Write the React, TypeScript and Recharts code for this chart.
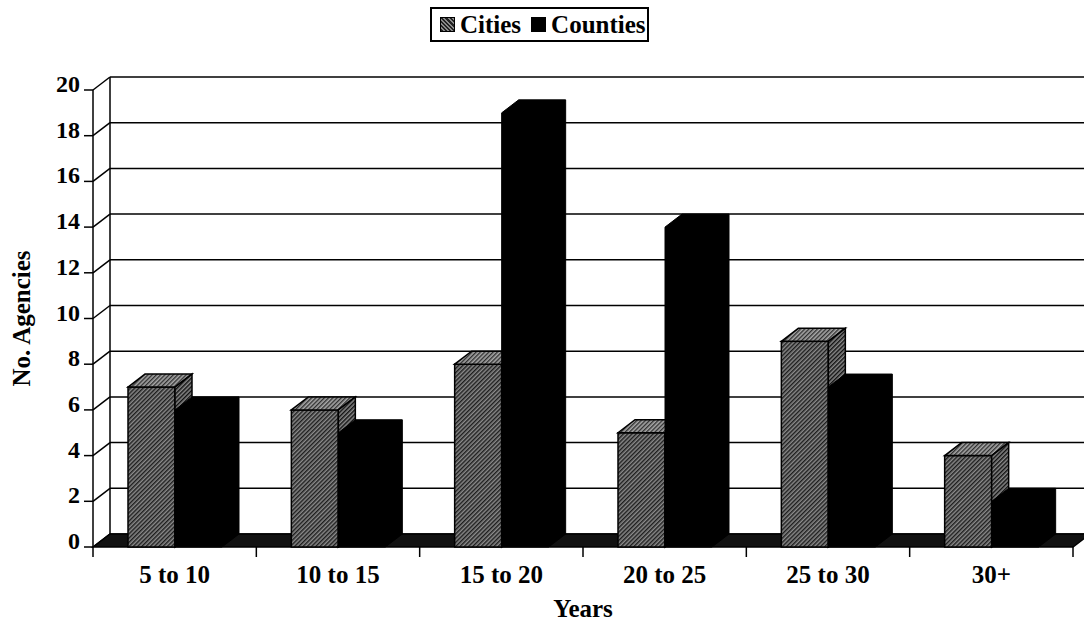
import { BarChart, Bar, XAxis, YAxis, CartesianGrid, Label } from "recharts";

const categories = ["5 to 10", "10 to 15", "15 to 20", "20 to 25", "25 to 30", "30+"];
const cities = [7, 6, 8, 5, 9, 4];
const counties = [6, 5, 19, 14, 7, 2];
const yTicks = [0, 2, 4, 6, 8, 10, 12, 14, 16, 18, 20];

const data = categories.map((name, i) => ({
  name,
  cities: cities[i],
  counties: counties[i],
}));

const W = 1084;
const H = 632;
const PLOT_LEFT = 93;
const PLOT_RIGHT = 1073;
const PLOT_TOP = 90;
const PLOT_BOTTOM = 547;
const BAND = (PLOT_RIGHT - PLOT_LEFT) / categories.length;
// 3d depth offset
const DX = 17;
const DY = -13;

const FONT = "'Liberation Serif', 'Times New Roman', serif";

const pts = (arr: number[][]) => arr.map((p) => p.join(",")).join(" ");

const Patterns = () => (
  <defs>
    <pattern id="cityFront" width="3" height="3" patternUnits="userSpaceOnUse" patternTransform="rotate(45)">
      <rect width="3" height="3" fill="#8a8a8a" />
      <line x1="0.7" y1="0" x2="0.7" y2="3" stroke="#1e1e1e" strokeWidth="1.5" />
    </pattern>
    <pattern id="cityTop" width="3" height="3" patternUnits="userSpaceOnUse" patternTransform="rotate(45)">
      <rect width="3" height="3" fill="#a8a8a8" />
      <line x1="0.7" y1="0" x2="0.7" y2="3" stroke="#2a2a2a" strokeWidth="1.3" />
    </pattern>
    <pattern id="citySide" width="3" height="3" patternUnits="userSpaceOnUse" patternTransform="rotate(45)">
      <rect width="3" height="3" fill="#8a8a8a" />
      <line x1="0.7" y1="0" x2="0.7" y2="3" stroke="#111" strokeWidth="1.5" />
    </pattern>
  </defs>
);

const CityBox = (props: any) => {
  const { x, y, width: w, height: h, index } = props;
  return (
    <g>
      {index === 0 && (
        <>
          <Patterns />
          <polygon
            points={pts([
              [PLOT_LEFT, PLOT_BOTTOM],
              [PLOT_LEFT + DX, PLOT_BOTTOM + DY],
              [PLOT_RIGHT + DX, PLOT_BOTTOM + DY],
              [PLOT_RIGHT, PLOT_BOTTOM],
            ])}
            fill="#111"
            stroke="#000"
            strokeWidth={1.5}
          />
        </>
      )}
      <rect x={x} y={y} width={w} height={h} fill="url(#cityFront)" stroke="#000" strokeWidth={1.5} />
      <polygon
        points={pts([[x, y], [x + DX, y + DY], [x + w + DX, y + DY], [x + w, y]])}
        fill="url(#cityTop)"
        stroke="#000"
        strokeWidth={1.5}
      />
      <polygon
        points={pts([[x + w, y], [x + w + DX, y + DY], [x + w + DX, y + h + DY], [x + w, y + h]])}
        fill="url(#citySide)"
        stroke="#000"
        strokeWidth={1.5}
      />
    </g>
  );
};

const CountyBox = (props: any) => {
  const { x, y, width: w, height: h } = props;
  return (
    <polygon
      points={pts([
        [x, y + h],
        [x, y],
        [x + DX, y + DY],
        [x + w + DX, y + DY],
        [x + w + DX, y + h + DY],
        [x + w, y + h],
      ])}
      fill="#000"
      stroke="#000"
      strokeWidth={1}
    />
  );
};

const wallLine = (props: any) => {
  const { x1, y1, x2 } = props;
  return (
    <g>
      <line x1={x1} y1={y1} x2={x1 + DX} y2={y1 + DY} stroke="#000" strokeWidth={1.5} />
      <line x1={x1 + DX} y1={y1 + DY} x2={x2 + DX} y2={y1 + DY} stroke="#000" strokeWidth={1.5} />
    </g>
  );
};

const wallSide = (props: any) => {
  const { x1, y1, y2 } = props;
  return <line x1={x1 + DX} y1={y1 + DY} x2={x1 + DX} y2={y2 + DY} stroke="#000" strokeWidth={1.5} />;
};

const XTick = (props: any) => {
  const { x, payload, index } = props;
  return (
    <g>
      <text x={x} y={PLOT_BOTTOM + 36} textAnchor="middle" fontFamily={FONT} fontWeight="bold" fontSize={25} fill="#000">
        {payload.value}
      </text>
      <line x1={x + BAND / 2} y1={PLOT_BOTTOM} x2={x + BAND / 2} y2={PLOT_BOTTOM + 10} stroke="#000" strokeWidth={1.5} />
      {index === 0 && (
        <line x1={x - BAND / 2} y1={PLOT_BOTTOM} x2={x - BAND / 2} y2={PLOT_BOTTOM + 10} stroke="#000" strokeWidth={1.5} />
      )}
    </g>
  );
};

const YTick = (props: any) => {
  const { x, y, payload } = props;
  return (
    <text x={x} y={y + 2} textAnchor="end" fontFamily={FONT} fontWeight="bold" fontSize={24} fill="#000">
      {payload.value}
    </text>
  );
};

const swatch = (bg: string) => ({
  display: "inline-block",
  width: 15,
  height: 15,
  background: bg,
  border: "1px solid #000",
  boxSizing: "border-box" as const,
  marginRight: 5,
});

export default function App() {
  return (
    <div style={{ position: "absolute", left: 0, top: 0, width: W, height: H, background: "#fff" }}>
      <BarChart
        width={W}
        height={H}
        data={data}
        margin={{ top: PLOT_TOP, right: W - PLOT_RIGHT, bottom: 0, left: 0 }}
        barSize={47}
        barGap={0}
      >
        <CartesianGrid horizontal={wallLine} vertical={wallSide} verticalPoints={[PLOT_LEFT]} />
        <XAxis dataKey="name" height={H - PLOT_BOTTOM} axisLine={false} tickLine={false} tick={<XTick />} interval={0}>
          <Label
            value="Years"
            position="insideBottom"
            offset={15}
            style={{ fontFamily: FONT, fontWeight: "bold", fontSize: 25, fill: "#000" }}
          />
        </XAxis>
        <YAxis
          width={PLOT_LEFT}
          domain={[0, 20]}
          ticks={yTicks}
          interval={0}
          tickSize={9}
          tickMargin={4}
          axisLine={{ stroke: "#000", strokeWidth: 1.5 }}
          tickLine={{ stroke: "#000", strokeWidth: 1.5 }}
          tick={<YTick />}
        >
          <Label
            content={(p: any) => {
              const vb = p.viewBox || { y: PLOT_TOP, height: PLOT_BOTTOM - PLOT_TOP };
              const cy = vb.y + vb.height / 2;
              return (
                <text
                  transform={`translate(30, ${cy}) rotate(-90)`}
                  textAnchor="middle"
                  fontFamily={FONT}
                  fontWeight="bold"
                  fontSize={25}
                  fill="#000"
                >
                  No. Agencies
                </text>
              );
            }}
          />
        </YAxis>
        <Bar dataKey="cities" name="Cities" shape={<CityBox />} isAnimationActive={false} />
        <Bar dataKey="counties" name="Counties" shape={<CountyBox />} isAnimationActive={false} />
      </BarChart>
      <div
        style={{
          position: "absolute",
          left: 430,
          top: 7,
          width: 219,
          height: 35,
          border: "2px solid #000",
          boxSizing: "border-box",
          display: "flex",
          alignItems: "center",
          paddingLeft: 8,
          fontFamily: FONT,
          fontWeight: "bold",
          fontSize: 25,
          whiteSpace: "nowrap",
        }}
      >
        <span style={swatch("repeating-linear-gradient(45deg, #222 0 1.5px, #8a8a8a 1.5px 3px)")} />
        <span style={{ marginRight: 10 }}>Cities</span>
        <span style={swatch("#000")} />
        <span>Counties</span>
      </div>
    </div>
  );
}
